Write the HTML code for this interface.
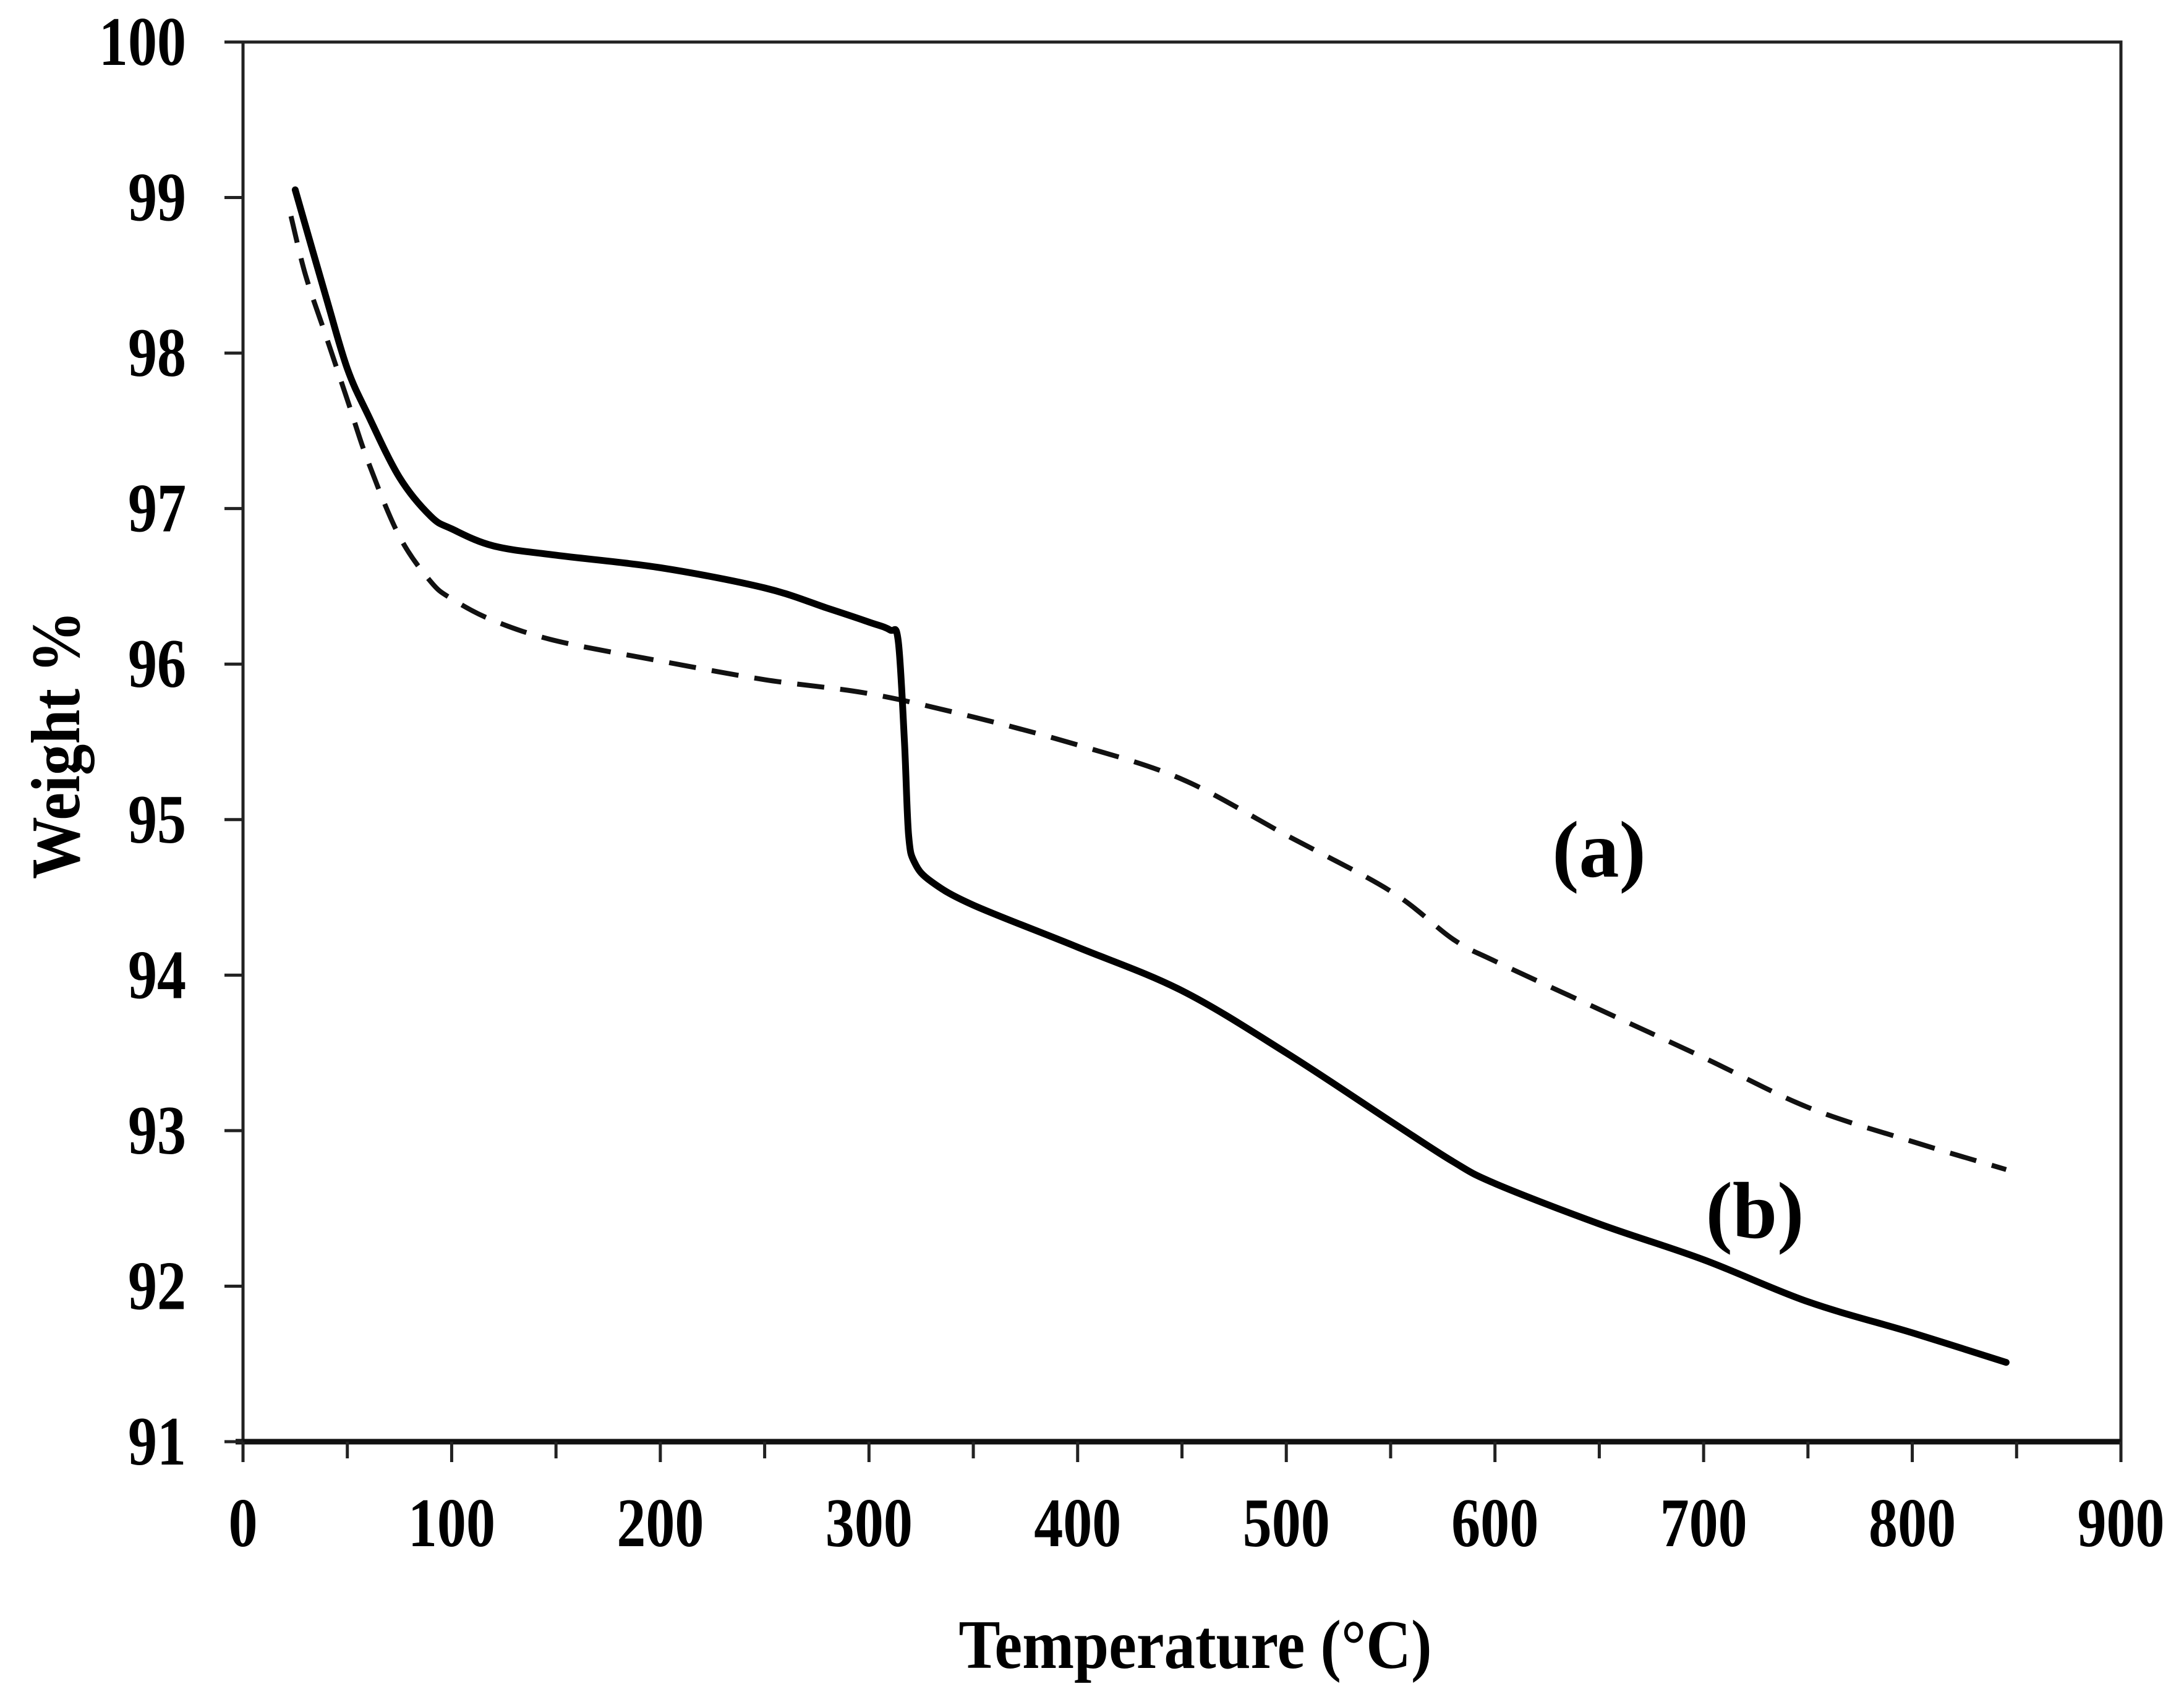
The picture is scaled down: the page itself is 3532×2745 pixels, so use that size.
<!DOCTYPE html>
<html><head><meta charset="utf-8"><style>
html,body{margin:0;padding:0;background:#fff;}
svg{display:block;}
text{font-family:"Liberation Serif",serif;font-weight:bold;fill:#000;}
</style></head><body>
<svg id="chart" width="3532" height="2745" viewBox="0 0 3532 2745" xmlns="http://www.w3.org/2000/svg"></svg>
<script>
const xTicks=[0,100,200,300,400,500,600,700,800,900];
const xMinor=[50,150,250,350,450,550,650,750,850];
const yTicks=[91,92,93,94,95,96,97,98,99,100];
const tempA=[23,30,40,50,60,75,90,100,120,150,200,250,300,350,400,450,500,550,580,600,650,700,750,800,845];
const weightA=[98.88,98.5,98.1,97.7,97.3,96.82,96.53,96.42,96.28,96.15,96.02,95.9,95.81,95.66,95.48,95.26,94.9,94.54,94.23,94.09,93.78,93.47,93.15,92.93,92.75];
const tempB=[25,40,50,60,75,90,100,120,150,200,250,280,300,310,314,317,319,322,330,350,400,450,500,550,580,600,650,700,750,800,845];
const weightB=[99.05,98.35,97.9,97.6,97.2,96.95,96.87,96.76,96.7,96.62,96.49,96.36,96.27,96.22,96.15,95.5,94.9,94.72,94.6,94.45,94.18,93.9,93.5,93.06,92.8,92.66,92.4,92.17,91.9,91.7,91.51];

const L=393,R=3430,T=68,B=2332;
const sx=v=>L+(v-0)/(900-0)*(R-L);
const sy=v=>B-(v-91)/(100-91)*(B-T);
const svg=document.getElementById('chart');
const NS='http://www.w3.org/2000/svg';
function mk(tag,attrs){const e=document.createElementNS(NS,tag);for(const k in attrs)e.setAttribute(k,attrs[k]);svg.appendChild(e);return e;}

let fr=mk('rect',{x:L,y:T,width:R-L,height:B-T,fill:'none',stroke:'#222','stroke-width':5});


let xa=mk('line',{x1:L-12,x2:R,y1:B,y2:B,stroke:'#111','stroke-width':9});



yTicks.forEach(v=>{
  const y=sy(v);
  const t=mk('line',{x1:L-30,x2:L,y1:y,y2:y,stroke:'#222','stroke-width':5});
  
  
  const lb=mk('text',{x:0,y:0,'font-size':112,'text-anchor':'end',transform:`translate(301,${y+37}) scale(0.84,1)`});
  lb.textContent=v;
  
  
});
xTicks.forEach(v=>{
  const x=sx(v);
  const t=mk('line',{x1:x,x2:x,y1:B,y2:B+33,stroke:'#222','stroke-width':5});
  
  
  const lb=mk('text',{x:0,y:0,'font-size':112,'text-anchor':'middle',transform:`translate(${x},2501) scale(0.84,1)`});
  lb.textContent=v;
  
  
});
xMinor.forEach(v=>{
  const x=sx(v);
  const t=mk('line',{x1:x,x2:x,y1:B,y2:B+27,stroke:'#222','stroke-width':5});
  
  
});

function pathOf(xs,ys){
  const p=xs.map((t,i)=>[sx(t),sy(ys[i])]);
  let d='M'+p[0][0].toFixed(1)+','+p[0][1].toFixed(1);
  for(let i=0;i<p.length-1;i++){
    const p0=p[i-1]||p[i],p1=p[i],p2=p[i+1],p3=p[i+2]||p2;
    const k=1/6;
    const c1=[p1[0]+(p2[0]-p0[0])*k,p1[1]+(p2[1]-p0[1])*k];
    const c2=[p2[0]-(p3[0]-p1[0])*k,p2[1]-(p3[1]-p1[1])*k];
    // keep control x within segment to avoid loops
    c1[0]=Math.min(Math.max(c1[0],p1[0]),p2[0]);
    c2[0]=Math.min(Math.max(c2[0],p1[0]),p2[0]);
    d+=' C'+c1[0].toFixed(1)+','+c1[1].toFixed(1)+' '+c2[0].toFixed(1)+','+c2[1].toFixed(1)+' '+p2[0].toFixed(1)+','+p2[1].toFixed(1);
  }
  return d;
}
let pa=mk('path',{d:pathOf(tempA,weightA),fill:'none',stroke:'#111','stroke-width':8,'stroke-dasharray':'44 26','stroke-linejoin':'round'});


let pb=mk('path',{d:pathOf(tempB,weightB),fill:'none',stroke:'#000','stroke-width':11,'stroke-linejoin':'round','stroke-linecap':'round'});



let la=mk('text',{x:2586,y:1418,'font-size':130,'text-anchor':'middle'});
la.textContent='(a)';


let lbb=mk('text',{x:2838,y:2002,'font-size':130,'text-anchor':'middle'});
lbb.textContent='(b)';



let xt=mk('text',{x:0,y:0,'font-size':112,'text-anchor':'middle',transform:'translate(1933,2698) scale(0.9,1)'});
xt.textContent='Temperature (°C)';


let yt=mk('text',{x:0,y:0,'font-size':112,'text-anchor':'middle','xml:space':'preserve',transform:'translate(128,1205) rotate(-90) scale(0.9,1)'});
yt.textContent='Weight  %';


</script>
</body></html>
